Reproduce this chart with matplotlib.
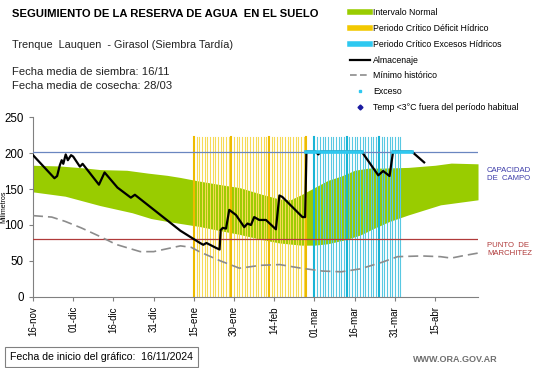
import numpy as np
import matplotlib
matplotlib.use("Agg")
import matplotlib.pyplot as plt
from matplotlib.lines import Line2D

plt.rcParams["font.family"] = ["Liberation Sans", "DejaVu Sans"]

# days since 16-nov-2024
tick_days = [0, 15, 30, 45, 60, 75, 90, 105, 120, 135, 150]
tick_labels = ["16-nov", "01-dic", "16-dic", "31-dic", "15-ene", "30-ene",
               "14-feb", "01-mar", "16-mar", "31-mar", "15-abr"]

# normal interval (green band)
band_up_d = [0, 10, 20, 25, 35, 43, 50, 55, 62, 70, 77, 85, 92, 96, 100, 105,
             110, 115, 120, 125, 130, 140, 150, 156, 166]
band_up = [183, 182, 179, 177, 176, 172, 169, 166, 161, 156, 152, 143, 136, 135,
           142, 152, 162, 168, 176, 179, 179, 180, 183, 186, 185]
band_lo_d = [0, 12, 25, 37, 44, 50, 62, 70, 77, 85, 92, 100, 105, 110, 117,
             122, 127, 133, 140, 152, 160, 166]
band_lo = [146, 140, 127, 117, 109, 105, 98, 92, 87, 80, 75, 72, 72, 74, 80,
           86, 95, 105, 114, 128, 132, 135]

# historical minimum
min_d = [0, 7, 12, 18, 25, 31, 40, 45, 50, 55, 59, 62, 70, 77, 85, 92, 100,
         108, 115, 122, 130, 136, 145, 152, 156, 160, 166]
min_v = [113, 111, 105, 96, 84, 73, 63, 63, 67, 71, 69, 63, 50, 40, 44, 45, 40,
         36, 35, 39, 48, 56, 57, 56, 54, 57, 61]

# soil water storage
alm_d = [0, 8, 9, 10, 10.7, 11.3, 12.2, 13, 14.2, 15, 17.5, 18.5, 24.6, 26.7,
         31.5, 36.5, 38, 55, 62.3, 63.5, 64.7, 68.4, 69.6, 70, 70.8, 72, 73.2,
         75.7, 78.8, 80, 81.3, 82.5, 84.4, 86.9, 90.6, 91.9, 93, 100.5, 101.5,
         102, 105.5, 106.4, 107.3, 122.6, 128.8, 130.6, 133, 134.3, 141.3, 145.9]
alm_v = [197, 165, 168, 183, 190, 185, 198, 190, 197, 195, 181, 185, 156, 173,
         152, 138, 142, 92, 75, 72.5, 75, 68, 66, 93, 96, 95, 121, 114, 97, 102,
         100, 111, 107, 107, 94, 141, 139, 111, 111, 202, 202, 198, 202, 202,
         169, 175, 168, 202, 202, 187]

cc = 202
pm = 80
deficit_period = (60, 102)
exceso_period = (105, 137)
exceso_days = [(102, 122.6), (134.3, 141.3)]

fig = plt.figure(figsize=(5.41, 3.68), dpi=100)
ax = fig.add_axes([0.061, 0.193, 0.8226, 0.489])

x = np.arange(0, 166.1, 0.5)
up = np.interp(x, band_up_d, band_up)
lo = np.interp(x, band_lo_d, band_lo)
ax.fill_between(x, lo, up, color="#99cc00", lw=0, zorder=1)

# critical periods, striped
for d in np.arange(deficit_period[0], deficit_period[1] + 0.1, 1.0):
    thick = (d - deficit_period[0]) % 14 == 0
    ax.plot([d, d], [0, 222], color="#eebb00" if thick else "#f6da55",
            lw=1.5 if thick else 0.8, zorder=2)
for d in np.arange(exceso_period[0], exceso_period[1] + 0.1, 1.0):
    thick = (d - exceso_period[0]) % 12 == 0
    ax.plot([d, d], [0, 222], color="#18b4d6" if thick else "#58c8e2",
            lw=1.5 if thick else 0.8, zorder=2)

ax.axhline(cc, color="#6a86c0", lw=0.9, zorder=3)
ax.axhline(pm, color="#b03a3a", lw=0.9, zorder=3)

ax.plot(min_d, min_v, color="#8c8c8c", lw=1.2, dashes=(6, 3), zorder=4)
ax.plot(alm_d, alm_v, color="black", lw=1.6, zorder=5)
for a, b in exceso_days:
    ax.plot([a, b], [cc, cc], color="#2ec8f0", lw=2.6, zorder=6)

ax.set_xlim(0, 166)
ax.set_ylim(0, 250)
ax.set_yticks([0, 50, 100, 150, 200, 250])
ax.set_xticks(tick_days)
ax.set_xticklabels(tick_labels, rotation=90, fontsize=7)
ax.tick_params(axis="y", labelsize=8.3, length=3, color="#808080")
ax.tick_params(axis="x", length=3, color="#808080")
for s in ["top", "right"]:
    ax.spines[s].set_visible(False)
for s in ["left", "bottom"]:
    ax.spines[s].set_color("#808080")
ax.set_ylabel("Milimetros", fontsize=5, labelpad=-2)

# right labels
ax.text(1.02, 170.5 / 250, "CAPACIDAD\nDE  CAMPO", transform=ax.transAxes,
        fontsize=5.6, color="#3b3ba8", va="center", ha="left")
ax.text(1.02, 65.5 / 250, "PUNTO  DE\nMARCHITEZ", transform=ax.transAxes,
        fontsize=5.6, color="#b03a3a", va="center", ha="left")

# titles
fig.text(12 / 541, 1 - 14 / 368, "SEGUIMIENTO DE LA RESERVA DE AGUA  EN EL SUELO",
         fontsize=8.1, fontweight="bold", va="center")
fig.text(12 / 541, 1 - 45 / 368, "Trenque  Lauquen  - Girasol (Siembra Tardía)",
         fontsize=7.8, va="center", color="#222222")
fig.text(12 / 541, 1 - 72 / 368, "Fecha media de siembra: 16/11",
         fontsize=8.1, va="center", color="#222222")
fig.text(12 / 541, 1 - 86 / 368, "Fecha media de cosecha: 28/03",
         fontsize=8.1, va="center", color="#222222")

# legend
handles = [
    Line2D([], [], color="#99cc00", lw=4),
    Line2D([], [], color="#f2c800", lw=4),
    Line2D([], [], color="#2ec8f0", lw=4),
    Line2D([], [], color="black", lw=1.6),
    Line2D([], [], color="#8c8c8c", lw=1.2, dashes=(4, 2)),
    Line2D([], [], color="#2ec8f0", marker="s", ms=2, lw=0),
    Line2D([], [], color="#1a1aa0", marker="D", ms=2.5, lw=0),
]
labels = ["Intervalo Normal", "Periodo Crítico Déficit Hídrico",
          "Periodo Crítico Excesos Hídricos", "Almacenaje", "Mínimo histórico",
          "Exceso", "Temp <3°C fuera del período habitual"]
fig.legend(handles, labels, loc="upper left", bbox_to_anchor=(344 / 541, 1 - 2 / 368),
           frameon=False, fontsize=6.3, handlelength=2.3, handletextpad=0.3,
           labelspacing=0.78, borderaxespad=0.3)

# footer
fig.text(10 / 541, 1 - 357 / 368, "Fecha de inicio del gráfico:  16/11/2024",
         fontsize=7.6, va="center",
         bbox=dict(boxstyle="square,pad=0.45", fc="white", ec="#808080", lw=0.8))
fig.text(498 / 541, 1 - 360 / 368, "WWW.ORA.GOV.AR", fontsize=6.5,
         color="#707070", fontweight="bold", ha="right", va="center")

fig.savefig("out.png", dpi=100)
